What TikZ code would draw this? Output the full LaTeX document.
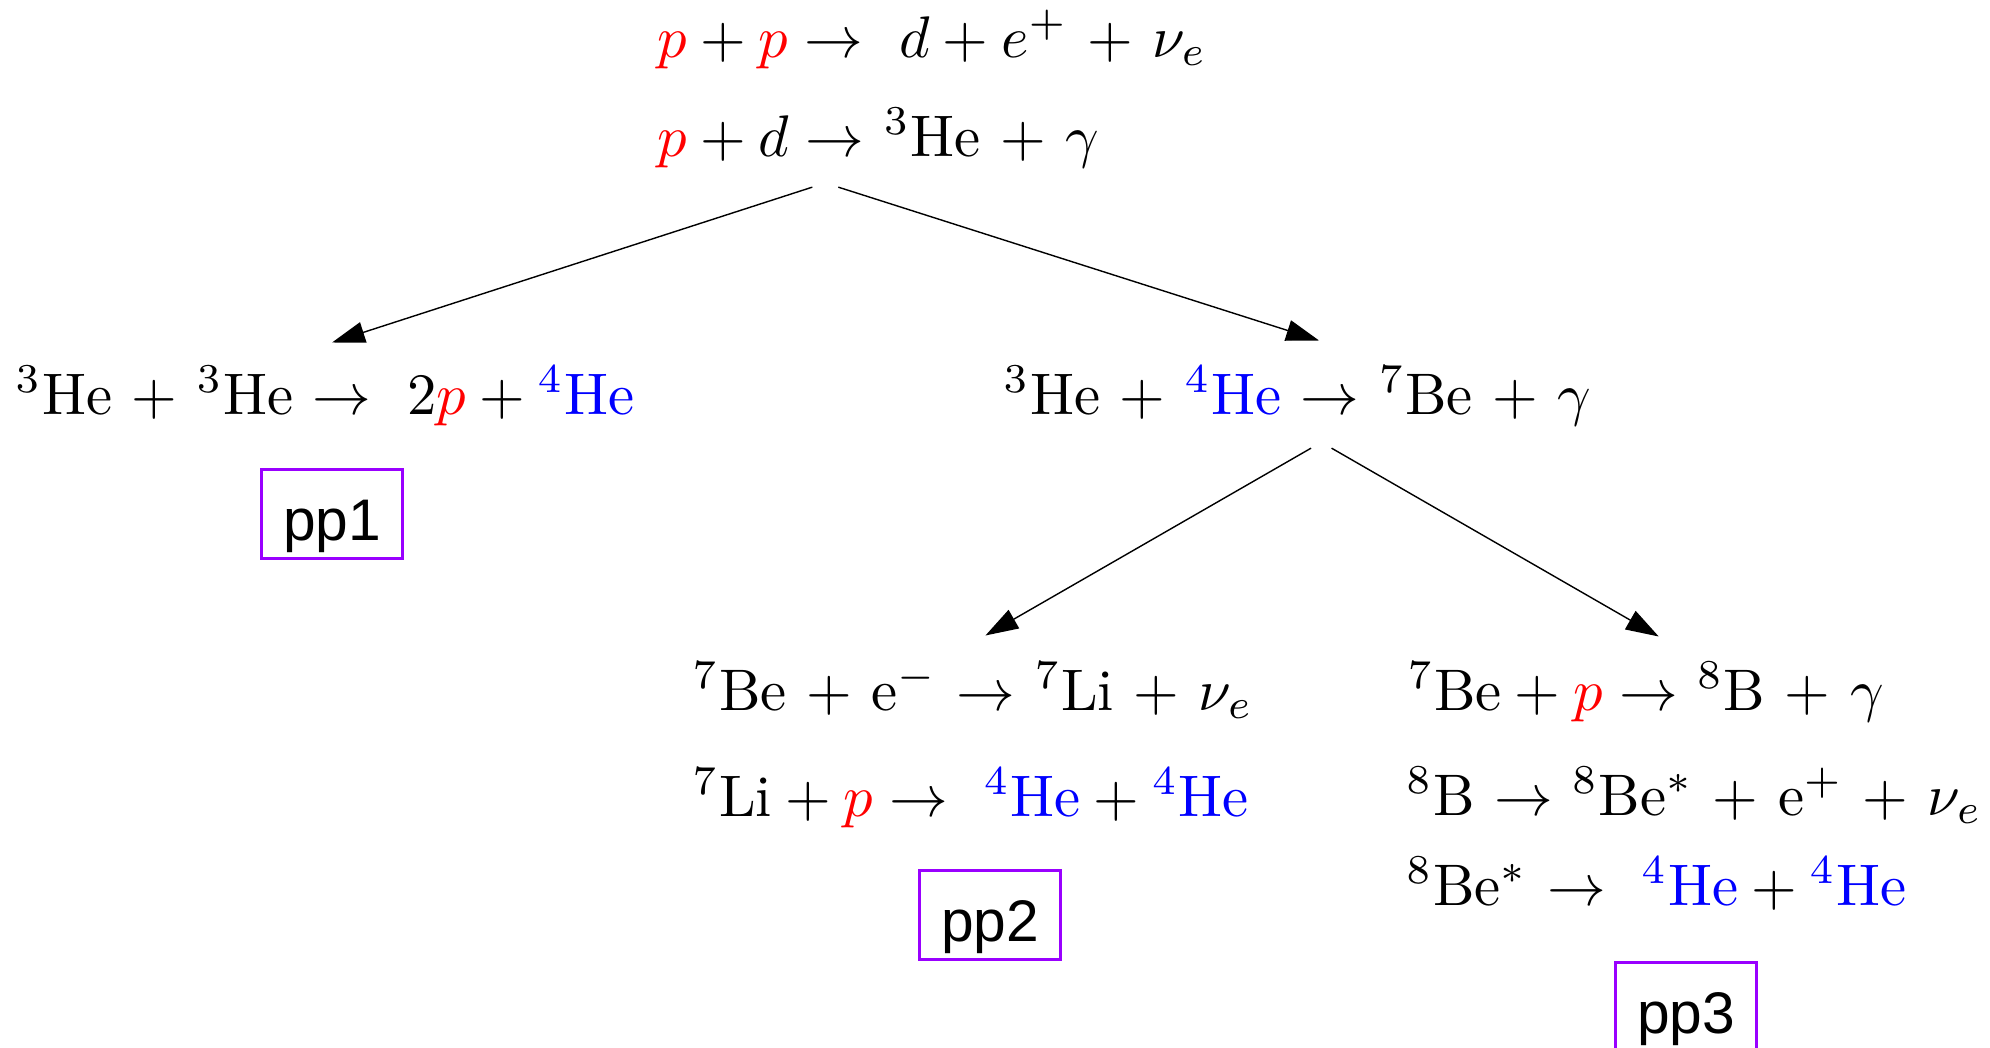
\documentclass[tikz,border=0pt]{standalone}
\usepackage{fontspec}
\newfontfamily\ppfont{Liberation Sans}
\usetikzlibrary{arrows.meta,positioning,calc}
\definecolor{ppviolet}{RGB}{153,0,255}
\newcommand{\prot}{{\color{red}p}}
\newcommand{\hefour}{{\color{blue}{}^{4}\mathrm{He}}}

\begin{document}
\begin{tikzpicture}[
    x=0.1704pt, y=0.1704pt,
    eqn/.style={anchor=base west, font=\normalsize},
    ppbox/.style={draw=ppviolet, line width=0.51pt,
                  minimum width=24pt, minimum height=15.3pt, inner sep=0pt,
                  text height=1.12em, text depth=0.21em,
                  font=\ppfont\fontsize{10pt}{12pt}\selectfont},
    arr/.style={-{Triangle[length=5.6pt,width=3.6pt]}, line width=0.24pt}
]
\useasboundingbox (0,0) rectangle (1990,1047);

% common start
\node[eqn] (ppfuse) at (637,990) {$\prot + \prot \rightarrow\;$ $d + e^{+}$ + $\nu_e$};
\node[eqn] (pdfuse) at (637,891) {$\prot + d \rightarrow$ ${}^{3}$He + $\gamma$};

% first branching
\node[eqn] (branch1) at (-5,633) {${}^{3}$He + ${}^{3}$He $\rightarrow\;$ $2\prot + \hefour$};
\node[eqn] (branch23) at (983,633) {${}^{3}$He + $\hefour$ $\rightarrow$ ${}^{7}$Be + $\gamma$};

% second branching
\node[eqn] (ecap) at (672,337) {${}^{7}$Be + e$^{-}$ $\rightarrow$ ${}^{7}$Li + $\nu_e$};
\node[eqn] (lip) at (672,231) {${}^{7}\mathrm{Li} + \prot \rightarrow\;$ $\hefour + \hefour$};
\node[eqn] (bep) at (1387,337) {${}^{7}\mathrm{Be} + \prot \rightarrow$ ${}^{8}$B + $\gamma$};
\node[eqn] (bdecay) at (1386,232) {${}^{8}$B $\rightarrow$ ${}^{8}$Be$^{*}$ + e$^{+}$ + $\nu_e$};
\node[eqn] (besplit) at (1386,142) {${}^{8}$Be$^{*}$ $\rightarrow\;$ $\hefour + \hefour$};

% chain labels
\node[ppbox] (pp1) at (332,533) {pp1};
\node[ppbox] (pp2) at (990,132) {pp2};
\node[ppbox] (pp3) at (1686,40) {pp3};

\draw[arr] ($(pdfuse.south)+(-66,1)$) -- ($(branch1.north)+(7,3)$);
\draw[arr] ($(pdfuse.south)+(-40,1)$) -- ($(branch23.north)+(21.5,5)$);
\draw[arr] ($(branch23.south)+(13.5,-2)$) -- ($(ecap.north)+(12.5,6)$);
\draw[arr] ($(branch23.south)+(34,-2)$) -- ($(bep.north)+(13,5)$);
\end{tikzpicture}
\end{document}
